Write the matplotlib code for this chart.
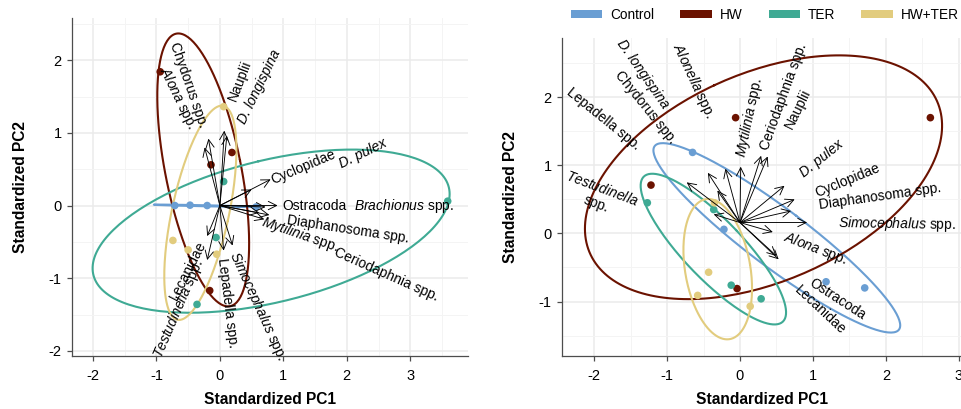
import numpy as np
import matplotlib.pyplot as plt
from matplotlib.patches import Patch

plt.rcParams['font.family'] = ['Liberation Sans', 'DejaVu Sans']
plt.rcParams['mathtext.fontset'] = 'custom'
plt.rcParams['mathtext.rm'] = 'Liberation Sans'
plt.rcParams['mathtext.it'] = 'Liberation Sans:italic'
plt.rcParams['axes.unicode_minus'] = False

# treatment groups and colours
treatments = ['Control', 'HW', 'TER', 'HW+TER']
colours = ['#6A9ED3', '#6B1200', '#3FAA94', '#E2CC7E']

# ---- left panel: PC scores per treatment ----
left_x = {
    'Control': [-0.71, -0.47, -0.20, 0.57],
    'HW': [-0.94, -0.14, 0.19, -0.16],
    'TER': [0.06, -0.06, -0.36, 3.59],
    'HW+TER': [0.06, -0.74, -0.50, -0.05],
}
left_y = {
    'Control': [0.0, 0.005, 0.0, -0.02],
    'HW': [1.84, 0.56, 0.73, -1.17],
    'TER': [0.33, -0.44, -1.36, 0.06],
    'HW+TER': [1.36, -0.48, -0.61, -0.67],
}

# left panel loadings (arrow tips), label anchors and label angles
left_vars = ['Chydorus spp.', 'Alona spp.', 'Nauplii', 'D. longispina', 'Cyclopidae',
             'D. pulex', 'Ostracoda', 'Brachionus spp.', 'Diaphanosoma spp.',
             'Mytilinia spp.', 'Ceriodaphnia spp.', 'Simocephalus spp.',
             'Lepadella spp.', 'Lecanidae', 'Testudinella spp.']
left_origin = (0.0, 0.0)
left_arrow_x = [-0.18, -0.24, 0.07, 0.11, 0.80, 0.50, 0.91, 0.72, 0.78, 0.70, 0.62, 0.20, 0.06, -0.20, -0.20]
left_arrow_y = [0.92, 0.80, 1.03, 0.96, 0.36, 0.22, 0.0, -0.02, -0.13, -0.19, -0.10, -0.55, -0.62, -0.42, -0.75]
left_label_x = [-0.27, -0.44, 0.19, 0.35, 0.82, 1.89, 0.99, 2.11, 1.06, 0.66, 1.81, 0.21, 0.03, -0.27, -0.32]
left_label_y = [1.08, 1.07, 1.45, 1.14, 0.35, 0.56, 0.0, 0.0, -0.20, -0.22, -0.64, -0.64, -0.72, -0.50, -0.75]
left_label_angle = [-70.7, -64, 69, 64, 23, 26, 0, 0, -8.7, -19, -24, -65.5, -83, 63, 66.7]

# ---- right panel ----
right_x = {
    'Control': [-0.65, -0.22, 1.18, 1.71],
    'HW': [-1.22, -0.06, 2.61, -0.04],
    'TER': [-1.27, -0.36, -0.12, 0.29],
    'HW+TER': [-0.43, -0.58, 0.14, -0.35],
}
right_y = {
    'Control': [1.19, 0.06, -0.71, -0.80],
    'HW': [0.71, 1.70, 1.70, -0.81],
    'TER': [0.45, 0.35, -0.76, -0.96],
    'HW+TER': [-0.57, -0.91, -1.07, 0.45],
}

right_vars = ['D. longispina', 'Chydorus spp.', 'Alonella spp.', 'Lepadella spp.',
              'Testudinella\nspp.', 'Mytilinia spp.', 'Ceriodaphnia spp.', 'Nauplii',
              'D. pulex', 'Cyclopidae', 'Diaphanosoma spp.', 'Simocephalus spp.',
              'Alona spp.', 'Ostracoda', 'Lecanidae']
right_origin = (0.0, 0.16)
right_arrow_x = [-0.44, -0.31, -0.20, -0.73, -0.36, 0.01, 0.29, 0.38, 0.61, 0.75, 0.70, 0.92, 0.45, 0.50, 0.53]
right_arrow_y = [0.89, 0.63, 0.95, 0.75, 0.28, 0.98, 1.14, 1.13, 0.70, 0.50, 0.33, 0.16, 0.02, -0.33, -0.38]
right_label_x = [-1.02, -0.91, -0.40, -1.39, -1.44, 0.01, 0.33, 0.66, 0.84, 1.04, 1.08, 1.35, 0.60, 0.97, 0.77]
right_label_y = [1.86, 1.34, 1.71, 1.26, 0.36, 1.12, 1.23, 1.55, 0.86, 0.59, 0.42, 0.15, -0.05, -0.71, -0.80]
right_label_angle = [-55, -51, -65, -39, -20.6, 78, 70, 64, 38.7, 22.4, 8, -1, -21, -33, -43]

# species names written fully in italics, genera italic before "spp."
italic_full = ['D. longispina', 'D. pulex']
italic_genus = ['Brachionus', 'Mytilinia', 'Simocephalus', 'Alonella', 'Alona', 'Testudinella']


def fmt(label):
    if label in italic_full:
        return label, 'italic'
    for genus in italic_genus:
        if label.startswith(genus + ' ') or label.startswith(genus + '\n'):
            return r'$\mathit{' + genus + '}$' + label[len(genus):], 'normal'
    return label, 'normal'


def ellipse(x, y, prob=0.68, n=200):
    # normal-theory ellipse like ggbiplot (sample covariance)
    x = np.asarray(x); y = np.asarray(y)
    mu = np.array([x.mean(), y.mean()])
    sigma = np.cov(np.vstack([x, y]))
    vals, vecs = np.linalg.eigh(sigma)
    vals = np.clip(vals, 0, None)
    ed = np.sqrt(-2 * np.log(1 - prob))
    t = np.linspace(-np.pi, np.pi, n)
    circle = np.column_stack([np.cos(t), np.sin(t)])
    pts = circle @ (vecs * np.sqrt(vals)).T * ed + mu
    return pts[:, 0], pts[:, 1]


def style_axes(ax, xlim, ylim, xticks, yticks):
    ax.set_xticks(xticks)
    ax.set_yticks(yticks)
    xm = np.arange(np.ceil(xlim[0] * 2) / 2, xlim[1], 0.5)
    ym = np.arange(np.ceil(ylim[0] * 2) / 2, ylim[1], 0.5)
    ax.set_xticks(xm, minor=True)
    ax.set_yticks(ym, minor=True)
    ax.set_xlim(*xlim)
    ax.set_ylim(*ylim)
    ax.grid(which='major', color='#EBEBEB', lw=1.1)
    ax.grid(which='minor', color='#F4F4F4', lw=0.7)
    ax.set_axisbelow(True)
    for s in ['top', 'right']:
        ax.spines[s].set_visible(False)
    for s in ['left', 'bottom']:
        ax.spines[s].set_color('#4D4D4D')
        ax.spines[s].set_linewidth(0.9)
    ax.tick_params(which='minor', length=0)
    ax.tick_params(which='major', length=3.5, width=0.9, color='#4D4D4D',
                   labelsize=10.5, labelcolor='black')
    ax.tick_params(axis='x', pad=5.5)
    ax.tick_params(axis='y', pad=4)
    ax.set_xlabel('Standardized PC1', fontsize=11.2, fontweight='bold', labelpad=7)
    ax.set_ylabel('Standardized PC2', fontsize=11.2, fontweight='bold', labelpad=15)


def draw_panel(ax, xs, ys, origin, names, arx, ary, lbx, lby, lba):
    for t, c in zip(treatments, colours):
        ex, ey = ellipse(xs[t], ys[t])
        ax.plot(ex, ey, color=c, lw=1.5, zorder=2)
    for t, c in zip(treatments, colours):
        ax.scatter(xs[t], ys[t], s=30, color=c, edgecolors='none', zorder=3)
    for i, name in enumerate(names):
        ax.annotate('', xy=(arx[i], ary[i]), xytext=origin,
                    arrowprops=dict(arrowstyle='->,head_length=0.6,head_width=0.3',
                                    color='black', lw=0.65, shrinkA=0, shrinkB=0),
                    zorder=4)
        ha = 'left' if lbx[i] >= origin[0] else 'right'
        txt, style = fmt(name)
        ax.text(lbx[i], lby[i], txt, rotation=lba[i], rotation_mode='anchor',
                ha=ha, va='center', fontsize=10, style=style,
                multialignment='center', zorder=5)


fig = plt.figure(figsize=(9.61, 4.09), dpi=100)
ax1 = fig.add_axes([72 / 961, 53 / 409, 396 / 961, 338 / 409])
ax2 = fig.add_axes([562 / 961, 53 / 409, 399 / 961, 318 / 409])

draw_panel(ax1, left_x, left_y, left_origin, left_vars, left_arrow_x, left_arrow_y,
           left_label_x, left_label_y, left_label_angle)
style_axes(ax1, (-2.33, 3.91), (-2.07, 2.58), [-2, -1, 0, 1, 2, 3], [-2, -1, 0, 1, 2])

draw_panel(ax2, right_x, right_y, right_origin, right_vars, right_arrow_x, right_arrow_y,
           right_label_x, right_label_y, right_label_angle)
style_axes(ax2, (-2.44, 3.03), (-1.80, 2.87), [-2, -1, 0, 1, 2, 3], [-1, 0, 1, 2])

handles = [Patch(facecolor=c, edgecolor='none', label=t) for t, c in zip(treatments, colours)]
fig.legend(handles=handles, loc='center', bbox_to_anchor=(0.796, 0.963), ncol=4,
           frameon=False, fontsize=9.8, handlelength=2.3, handleheight=0.55,
           handletextpad=0.6, columnspacing=1.9)

fig.savefig('out.png', dpi=100)
